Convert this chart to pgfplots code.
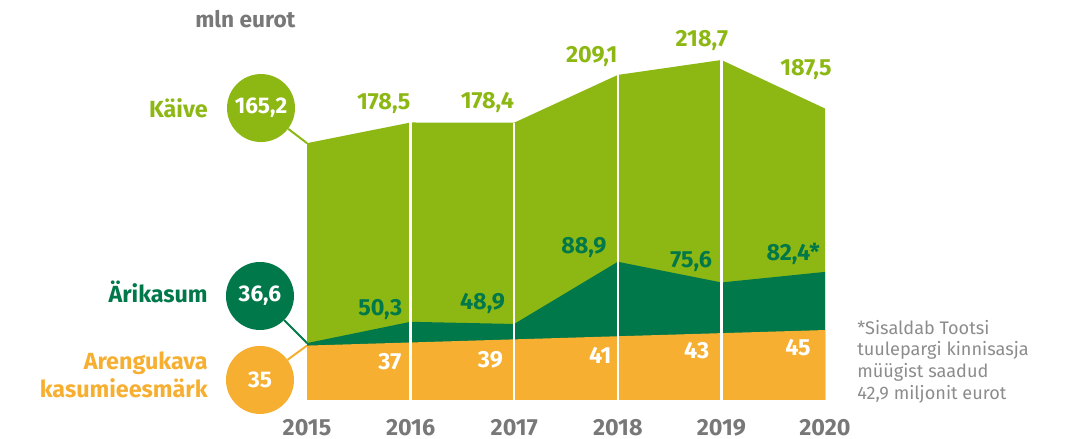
\documentclass[border=0pt]{standalone}
\usepackage{fontspec}
\setmainfont{Fira Sans}
\usepackage{pgfplots}
\pgfplotsset{compat=1.18}
\definecolor{lgreen}{RGB}{141,184,20}
\definecolor{dgreen}{RGB}{0,120,74}
\definecolor{orng}{RGB}{246,175,49}
\definecolor{ygray}{RGB}{120,120,120}
\definecolor{ngray}{RGB}{140,140,140}
% 1 px of the reference = 0.75pt
\tikzset{
  lbl/.style={font=\fontsize{17.5}{17.5}\selectfont\bfseries, inner sep=0pt, anchor=base east},
  note/.style={font=\fontsize{13.6}{13.6}\selectfont, text=ngray, inner sep=0pt, anchor=base west},
  bubble/.style={circle, minimum size=51pt, inner sep=0pt, text=white,
                 font=\fontsize{17}{17}\selectfont\bfseries},
}
\begin{document}
\begin{tikzpicture}
\begin{axis}[
  scale only axis, width=388.5pt, height=255pt,
  xmin=2015, xmax=2020, ymin=0, ymax=218.7,
  axis line style={draw=none}, ytick=\empty,
  xtick={2015,2016,2017,2018,2019,2020},
  xticklabels={2015,2016,2017,2018,2019,2020},
  major tick length=0pt,
  xticklabel style={font=\fontsize{17.5}{17.5}\selectfont\bfseries, text=ygray,
                    anchor=base, yshift=-26.5pt, inner sep=0pt},
  clip=false,
]
% Käive
\addplot[fill=lgreen, draw=none] coordinates {
  (2015,165.2) (2016,178.5) (2017,178.4) (2018,209.1) (2019,218.7) (2020,187.5)} \closedcycle;
% Ärikasum
\addplot[fill=dgreen, draw=none] coordinates {
  (2015,36.6) (2016,50.3) (2017,48.9) (2018,88.9) (2019,75.6) (2020,82.4)} \closedcycle;
% Arengukava kasumieesmärk
\addplot[fill=orng, draw=none] coordinates {
  (2015,35) (2016,37) (2017,39) (2018,41) (2019,43) (2020,45)} \closedcycle;
% white separators
\addplot[ycomb, white, line width=1.7pt, mark=none] coordinates {
  (2016,178.5) (2017,178.4) (2018,209.1) (2019,218.7)};

% revenue labels
\node[lbl, text=lgreen, xshift=0pt,    yshift=10pt]   at (axis cs:2016,178.5) {178,5};
\node[lbl, text=lgreen, xshift=0pt,    yshift=10.5pt] at (axis cs:2017,178.4) {178,4};
\node[lbl, text=lgreen, xshift=0pt,    yshift=9pt]    at (axis cs:2018,209.1) {209,1};
\node[lbl, text=lgreen, xshift=5.25pt, yshift=9.75pt] at (axis cs:2019,218.7) {218,7};
\node[lbl, text=lgreen, xshift=5.25pt, yshift=24.75pt] at (axis cs:2020,187.5) {187,5};
% profit labels
\node[lbl, text=dgreen, xshift=-6pt,    yshift=4.5pt]  at (axis cs:2016,50.3) {50,3};
\node[lbl, text=dgreen, xshift=-6.75pt, yshift=10.5pt] at (axis cs:2017,48.9) {48,9};
\node[lbl, text=dgreen, xshift=-8.25pt, yshift=6pt]    at (axis cs:2018,88.9) {88,9};
\node[lbl, text=dgreen, xshift=-6.75pt, yshift=11.25pt] at (axis cs:2019,75.6) {75,6};
\node[lbl, text=dgreen, xshift=-3.75pt, yshift=8.25pt] at (axis cs:2020,82.4) {82,4*};
% target labels
\node[lbl, text=white, xshift=-6.75pt, yshift=-20.25pt] at (axis cs:2016,37) {37};
\node[lbl, text=white, xshift=-8.25pt, yshift=-21pt]    at (axis cs:2017,39) {39};
\node[lbl, text=white, xshift=-4.5pt,  yshift=-20.25pt] at (axis cs:2018,41) {41};
\node[lbl, text=white, xshift=-9pt,    yshift=-18.75pt] at (axis cs:2019,43) {43};
\node[lbl, text=white, xshift=-10.5pt, yshift=-18.75pt] at (axis cs:2020,45) {45};

% 2015 bubbles
\node[bubble, fill=lgreen] (c1) at (axis cs:2014.556,187.8) {165,2};
\node[bubble, fill=dgreen] (c2) at (axis cs:2014.546,66.9) {36,6};
\node[bubble, fill=orng]   (c3) at (axis cs:2014.546,12.9) {35};
\draw[lgreen, line width=1.5pt] (c1) -- (axis cs:2015,165.2);
\draw[dgreen, line width=1.5pt] (c2) -- (axis cs:2015,36.6);
\draw[orng, line width=1.5pt]   (c3) -- (axis cs:2015,35);

% series names
\node[lbl, text=lgreen] at (axis cs:2014.044,182.0) {Käive};
\node[lbl, text=dgreen] at (axis cs:2014.044,62.4) {Ärikasum};
\node[lbl, text=orng]   at (axis cs:2014.044,19.3) {Arengukava};
\node[lbl, text=orng]   at (axis cs:2014.044,1.3) {kasumieesmärk};

% unit
\node[lbl, text=ygray, anchor=base west, font=\fontsize{17}{17}\selectfont\bfseries]
  at (axis cs:2013.919,239.9) {mln eurot};

% footnote
\node[note] at (axis cs:2020.309,42.45) {*Sisaldab Tootsi};
\node[note] at (axis cs:2020.309,28.3) {tuulepargi kinnisasja};
\node[note] at (axis cs:2020.309,14.15) {müügist saadud};
\node[note] at (axis cs:2020.309,0) {42,9 miljonit eurot};

\coordinate (bbA) at (rel axis cs:-0.5927,1.17647);
\coordinate (bbB) at (rel axis cs:1.4691,-0.1147);
\end{axis}
\pgfresetboundingbox
\path (bbA) rectangle (bbB);
\end{tikzpicture}
\end{document}
